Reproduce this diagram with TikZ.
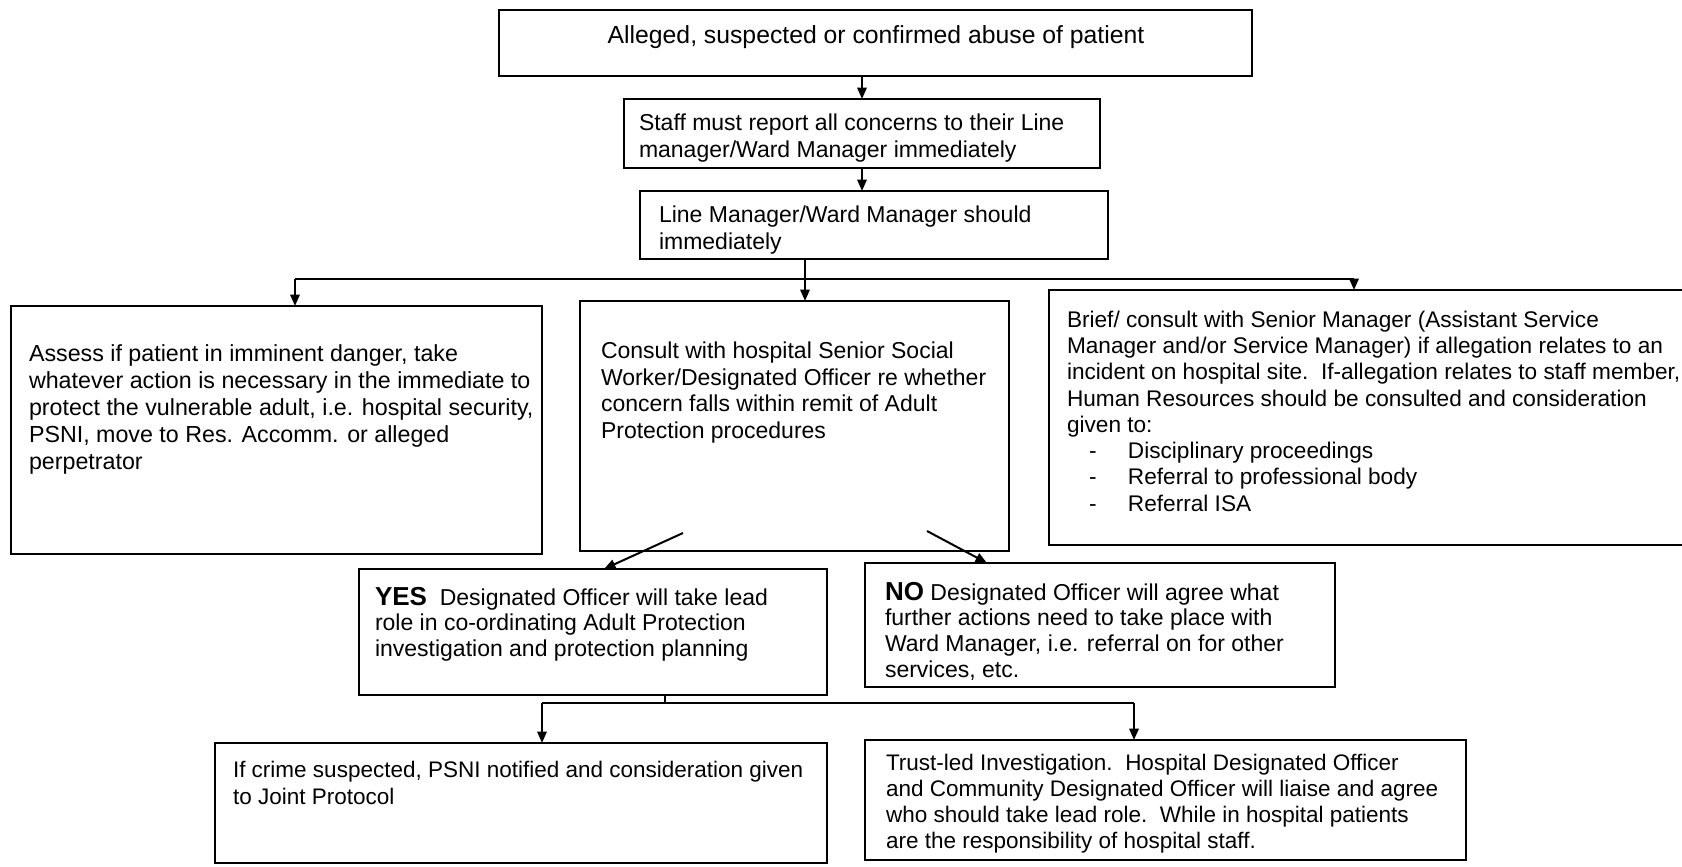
\documentclass[tikz,border=0pt]{standalone}
\usepackage{fontspec}
\setmainfont{Liberation Sans}
\usetikzlibrary{arrows.meta}

% a framed step given by its corners (x1,y1) and (x2,y2)
\newcommand\flowbox[5]{%
  \node[frame, anchor=north west,
        minimum width={(#4-#2)*0.4pt}, minimum height={(#5-#3)*0.4pt}]
        (#1) at (#2,#3) {};}
% bold decision word
\newcommand\yesno[1]{{\fontsize{10.4}{10.6}\selectfont\bfseries #1}}
% dashed list entry
\newcommand\listitem[1]{\hspace*{8.8pt}\makebox[15.6pt][l]{-}#1}

\begin{document}
\begin{tikzpicture}[x=0.4pt, y=-0.4pt,
  frame/.style={draw, line width=0.8pt, inner sep=0pt, outer sep=0pt},
  txt/.style={inner sep=0pt, outer sep=0pt, align=left, anchor=north west,
              font=\fontsize{9.2}{10.6}\selectfont},
  link/.style={line width=0.8pt},
  arr/.style={link, -{Triangle[length=4.6pt,width=3.8pt]}}]

\clip (0,0) rectangle (1682,867);
\fill[white] (0,0) rectangle (1682,867);

% boxes
\flowbox{abuse}{499}{10}{1252}{76}
\flowbox{report}{624}{99}{1100}{168}
\flowbox{manager}{640}{191}{1108}{259}
\flowbox{danger}{11}{306}{542}{554}
\flowbox{consult}{580}{301}{1009}{551}
\flowbox{senior}{1049}{290}{1700}{545}
\flowbox{yes}{359}{569}{827}{695}
\flowbox{no}{865}{563}{1335}{687}
\flowbox{crime}{215}{743}{827}{863}
\flowbox{trust}{865}{740}{1466}{860}

% texts
\node[txt, anchor=center, font=\fontsize{9.9}{12}\selectfont] (t-abuse) at (876,37)
  {Alleged, suspected or confirmed abuse of patient};
\node[txt] (t-report) at (639,114)
  {Staff must report all concerns to their Line\\manager/Ward Manager immediately};
\node[txt] (t-manager) at (659,206)
  {Line Manager/Ward Manager should\\immediately};
\node[txt, font=\fontsize{9.3}{10.8}\selectfont] (t-danger) at (29,345)
  {Assess if patient in imminent danger, take\\
   whatever action is necessary in the immediate to\\
   protect the vulnerable adult, i.e. hospital security,\\
   PSNI, move to Res. Accomm. or alleged\\
   perpetrator};
\node[txt] (t-consult) at (601,342)
  {Consult with hospital Senior Social\\
   Worker/Designated Officer re whether\\
   concern falls within remit of Adult\\
   Protection procedures};
\node[txt, font=\fontsize{9.05}{10.5}\selectfont] (t-senior) at (1067,311)
  {Brief/ consult with Senior Manager (Assistant Service\\
   Manager and/or Service Manager) if allegation relates to an\\
   incident on hospital site.\ \ If-allegation relates to staff member,\\
   Human Resources should be consulted and consideration\\
   given to:\\
   \listitem{Disciplinary proceedings}\\
   \listitem{Referral to professional body}\\
   \listitem{Referral ISA}};
\node[txt, font=\fontsize{9.2}{10.3}\selectfont] (t-yes) at (375,587)
  {\yesno{YES}\ \ Designated Officer will take lead\\
   role in co-ordinating Adult Protection\\
   investigation and protection planning};
\node[txt, font=\fontsize{9.2}{10.3}\selectfont] (t-no) at (885,582)
  {\yesno{NO} Designated Officer will agree what\\
   further actions need to take place with\\
   Ward Manager, i.e. referral on for other\\
   services, etc.};
\node[txt, font=\fontsize{9.0}{11}\selectfont] (t-crime) at (233,761)
  {If crime suspected, PSNI notified and consideration given\\
   to Joint Protocol};
\node[txt, font=\fontsize{9.0}{10.4}\selectfont] (t-trust) at (886,754)
  {Trust-led Investigation.\ \ Hospital Designated Officer\\
   and Community Designated Officer will liaise and agree\\
   who should take lead role.\ \ While in hospital patients\\
   are the responsibility of hospital staff.};

% connectors
\draw[arr] (report.north |- abuse.south) -- (report.north);
\draw[arr] (report.south) -- (report.south |- manager.north);

\coordinate (split) at (805,279);
\coordinate (splitL) at (295,279);
\coordinate (splitR) at (1354,279);
\draw[link] (manager.south -| split) -- (split);
\draw[link] (splitL) -- (splitR);
\draw[arr] (splitL) -- (splitL |- danger.north);
\draw[arr] (split) -- (split |- consult.north);
\draw[arr] (splitR) -- (splitR |- senior.north);

\coordinate (yesfrom) at (683,533);
\coordinate (nofrom) at (927,531);
\draw[arr] (yesfrom) -- ([xshift=98pt]yes.north west);
\draw[arr] (nofrom) -- ([xshift=48.8pt]no.north west);

\coordinate (join) at (665,703);
\coordinate (joinL) at (542,703);
\coordinate (joinR) at (1134,703);
\draw[link] (yes.south -| join) -- (join);
\draw[link] (joinL) -- (joinR);
\draw[arr] (joinL) -- (joinL |- crime.north);
\draw[arr] (joinR) -- (joinR |- trust.north);
\end{tikzpicture}
\end{document}
